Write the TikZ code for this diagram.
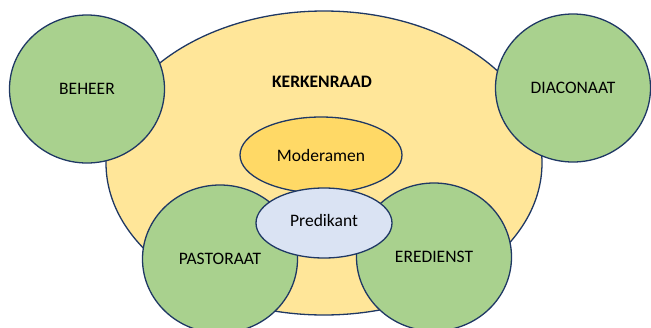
\documentclass[tikz,border=0pt]{standalone}
\usepackage{fontspec}
\setmainfont{Carlito}
\usetikzlibrary{shapes.geometric}
\definecolor{raadFill}{HTML}{FFE699}
\definecolor{modFill}{HTML}{FFD966}
\definecolor{taakFill}{HTML}{A9D18E}
\definecolor{predFill}{HTML}{DAE3F3}
\definecolor{rand}{HTML}{1F3864}

\begin{document}
\begin{tikzpicture}[x=1pt,y=-1pt,
			oval/.style={shape=ellipse, draw=rand, line width=1.3pt, inner sep=0pt,
				font=\fontsize{17.5}{20}\selectfont},
			raadOval/.style={oval, fill=raadFill, minimum width=436pt, minimum height=304pt},
			taakCircle/.style={oval, fill=taakFill, minimum width=155pt, minimum height=148pt},
			modOval/.style={oval, fill=modFill, minimum width=162pt, minimum height=76pt},
			predOval/.style={oval, fill=predFill, minimum width=136pt, minimum height=70pt},
			raadTitle/.style={font=\fontsize{17.5}{20}\selectfont\bfseries}]
	\clip (0,0) rectangle (651,327);
	\node [raadOval] (raad) at (324,163) {};
	\node [raadTitle] (raadLabel) at (322,82) {KERKENRAAD};
	\node [taakCircle] (beheer) at (87,89) {BEHEER};
	\node [taakCircle] (diaconaat) at (573,88) {DIACONAAT};
	\node [modOval] (moderamen) at (321,155) {Moderamen};
	\node [taakCircle] (pastoraat) at (220,259) {PASTORAAT};
	\node [taakCircle] (eredienst) at (434,257) {EREDIENST};
	\node [predOval] (predikant) at (324,223) {\raisebox{6pt}{Predikant}};
\end{tikzpicture}
\end{document}
